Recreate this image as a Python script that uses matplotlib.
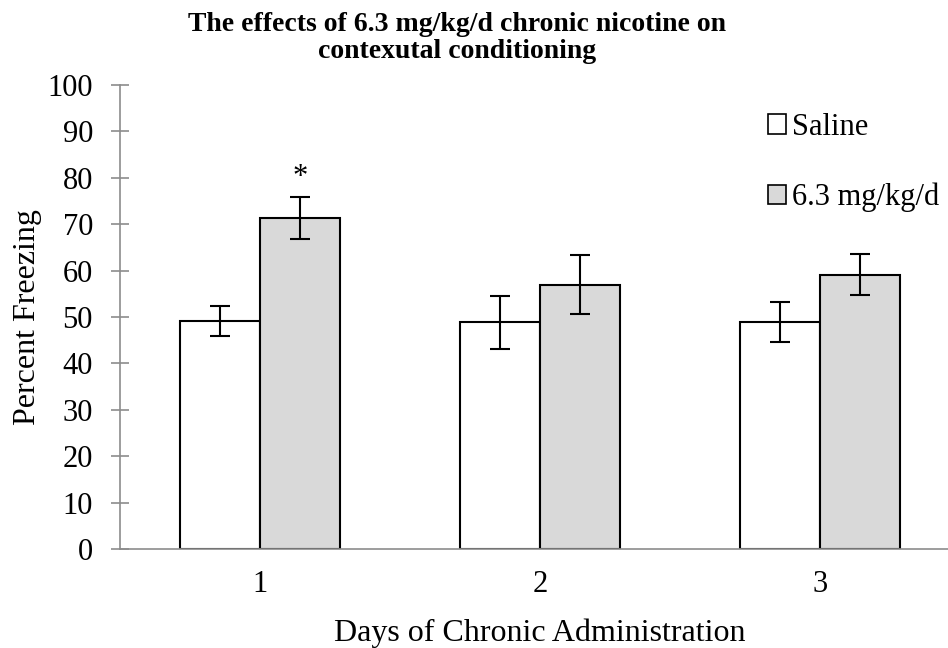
import matplotlib.pyplot as plt
from matplotlib.patches import Patch
import numpy as np

days = ['1', '2', '3']
saline = [49.2, 48.9, 49.0]
saline_err = [3.2, 5.7, 4.3]
nicotine = [71.4, 57.0, 59.1]
nicotine_err = [4.5, 6.4, 4.4]

plt.rcParams['font.family'] = ['Liberation Serif', 'DejaVu Serif']

fig = plt.figure(figsize=(9.48, 6.48), dpi=100)
ax = fig.add_axes([0.1266, 0.1528, 0.886, 0.716])

x = np.arange(len(days))
w = 80 / 280
err_kw = dict(ecolor='black', elinewidth=1.5, capsize=7, capthick=1.5)
ax.bar(x - w / 2, saline, w, yerr=saline_err, color='white', edgecolor='black',
       linewidth=1.5, error_kw=err_kw, label='Saline')
ax.bar(x + w / 2, nicotine, w, yerr=nicotine_err, color='#d9d9d9', edgecolor='black',
       linewidth=1.5, error_kw=err_kw, label='6.3 mg/kg/d')

# significance marker
ax.text(x[0] + w / 2, nicotine[0] + nicotine_err[0] + 1.0, '*', ha='center', va='bottom', fontsize=22)

ax.set_xlim(-0.5, 2.5)
ax.set_ylim(0, 100)
ax.set_yticks(range(0, 101, 10))
ax.set_xticks(x)
ax.set_xticklabels(days)
for s in ['top', 'right']:
    ax.spines[s].set_visible(False)
for s in ['left', 'bottom']:
    ax.spines[s].set_color('#8c8c8c')
    ax.spines[s].set_linewidth(1.2)
ax.tick_params(axis='y', direction='inout', length=13, width=1.2, color='#8c8c8c',
               labelsize=22, pad=13)
ax.tick_params(axis='x', length=0, labelsize=22, pad=15)

ax.set_ylabel('Percent Freezing', fontsize=23, labelpad=4)
ax.set_xlabel('Days of Chronic Administration', fontsize=23, labelpad=14)

# title, two lines set tight like the original
fig.text(0.482, 1 - 31 / 648, 'The effects of 6.3 mg/kg/d chronic nicotine on',
         ha='center', va='baseline', fontsize=20, fontweight='bold')
fig.text(0.482, 1 - 58 / 648, 'contexutal conditioning',
         ha='center', va='baseline', fontsize=20, fontweight='bold')

handles = [Patch(facecolor='white', edgecolor='black', linewidth=1.2, label='Saline'),
           Patch(facecolor='#d9d9d9', edgecolor='black', linewidth=1.2, label='6.3 mg/kg/d')]
fig.legend(handles=handles, loc='upper left', bbox_to_anchor=(0.797, 0.845), frameon=False,
           fontsize=22, handlelength=0.6, handleheight=0.6, handletextpad=0.2,
           labelspacing=1.35, borderaxespad=0)

fig.savefig('out.png', dpi=100)
